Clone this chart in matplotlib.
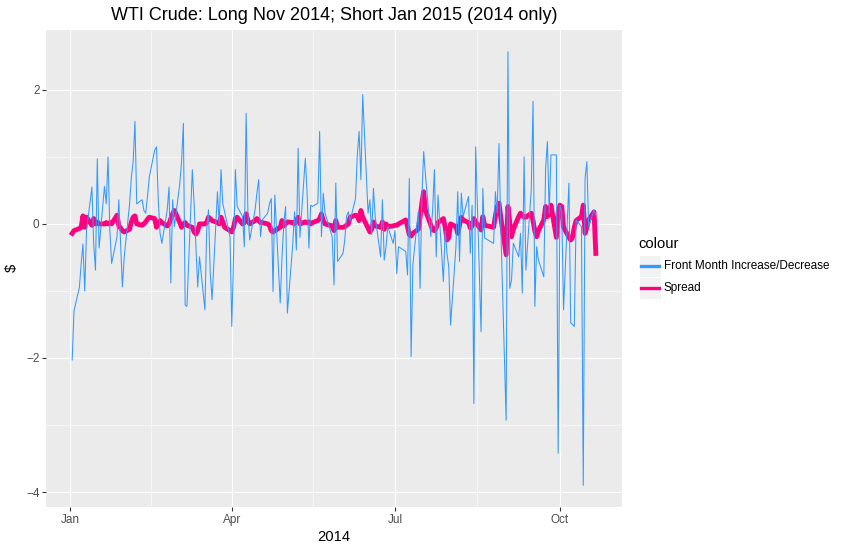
import numpy as np
import pandas as pd
import matplotlib
matplotlib.use('Agg')
import matplotlib.pyplot as plt
import matplotlib.dates as mdates
from matplotlib.lines import Line2D
from matplotlib.patches import Rectangle

nan = np.nan

# front month daily change ($), one value per business day
front_jan = [-2.03, -1.3, -0.95, -0.6, -0.3, -1.0, -0.1, 0.55, -0.3, -0.69, 0.97, -0.36,
             0.56, 0.3, 1.0, -0.09, -0.59, -0.19, 0.36, -0.3, -0.94, -0.5]
front_feb = [0.3, 0.7, 0.93, 1.53, 0.3, 0.36, 0.2, 0.16, 0.41, 0.7,
             1.1, 1.15, 0.36, -0.14, -0.29, 0.21, 0.55, -0.88, 0.36, -0.04]
front_mar = [0.6, 0.93, 1.5, -1.21, -1.23, 0.81, 0.3, -0.34, -0.94, -0.49,
             -1.28, -0.1, 0.21, -0.74, -1.13, 0.48, 0.0, 0.81, 0.3, 0.18, -0.19]
front_apr = [-1.53, -0.46, 0.81, 0.26, 0.11, -0.34, 1.65, 0.16, -0.24,
             0.21, 0.46, 0.66, -0.19, 0.06, 0.16, 0.3, 0.38, -1.01, 0.43, -1.18, -0.5, 0.0]
front_may = [0.26, -1.33, -0.3, 0.18, -0.39, 1.13, -0.2, 0.98, 0.46, -0.36, 0.28, 0.26,
             0.31, 1.38, -0.19, 0.46, 0.16, nan, -0.19, -0.91, 0.61, -0.56]
front_jun = [-0.44, -0.24, 0.11, 0.18, 0.05, 0.38, 1.03, 1.38, 0.66, 1.93,
             0.16, 0.36, -0.16, 0.53, 0.1, -0.49, 0.36, -0.54, -0.34, -0.04, -0.29]
front_jul = [-0.1, -0.74, -0.34, nan, -0.41, -0.76, 0.68, -1.98, -0.6,
             0.18, -0.96, 0.41, 1.08, 0.73, -0.19, 0.21, 0.81, -0.49, 0.43,
             -0.86, -0.1, -0.44, -0.64]
front_aug = [-1.51, -0.34, 0.48, -0.56, 0.46, 0.11, 0.41, -0.44, 0.28, -2.68, 1.15,
             -1.61, 0.53, -0.21, nan, nan, -0.29, 0.48, 0.16, 1.2, -0.04]
front_sep = [-2.93, 2.57, -0.96, -0.84, -0.29, -0.49, -0.14, -1.03, 1.0, -0.69,
             0.51, 1.83, -1.23, -0.34, -0.54, -0.79, 0.83, 1.23, 0.16, 1.03, 1.03, -3.42]
front_oct = [0.28, 0.18, -1.28, 0.61, -1.48, -1.5, -1.53, 0.06,
             -0.04, -3.9, 0.68, 0.93, -0.04, 0.21, 0.13]

# spread (Nov 2014 - Jan 2015)
spread_jan = [-0.14, -0.1, -0.07, -0.05, 0.12, -0.05, 0.1, -0.02, 0.08, 0.0, 0.03, 0.0,
              0.0, 0.02, 0.0, 0.02, 0.0, 0.13, -0.03, -0.06, -0.1, -0.12]
spread_feb = [-0.08, 0.03, 0.1, 0.12, 0.0, -0.02, 0.0, 0.03, 0.07, 0.1,
              0.08, -0.05, 0.0, 0.05, 0.02, -0.03, 0.0, 0.08, 0.15, 0.2]
spread_mar = [0.02, -0.05, 0.0, 0.02, -0.02, -0.05, -0.12, -0.15, -0.1, 0.0,
              0.0, 0.02, 0.1, 0.08, 0.05, 0.02, 0.0, 0.1, 0.03, -0.05, -0.1]
spread_apr = [-0.12, -0.05, 0.08, 0.1, 0.0, 0.02, 0.15, 0.05, 0.0, 0.05,
              0.08, 0.05, 0.02, 0.02, 0.0, -0.02, -0.1, -0.12, -0.1, -0.05, 0.05, -0.03]
spread_may = [0.0, 0.03, 0.02, 0.0, 0.05, 0.1, 0.0, 0.03, 0.02, 0.03, 0.0, 0.02,
              0.05, 0.08, 0.15, 0.05, 0.0, nan, -0.03, -0.1, 0.05, -0.05]
spread_jun = [-0.05, -0.04, -0.02, 0.0, 0.1, 0.13, 0.12, 0.05, 0.2, 0.1,
              -0.06, -0.12, -0.08, 0.03, -0.03, -0.05, 0.03, -0.08, 0.0, -0.04, -0.03]
spread_jul = [-0.02, -0.02, 0.0, nan, 0.06, -0.04, -0.16, -0.18, -0.14,
              -0.08, 0.1, 0.31, 0.48, 0.2, -0.02, -0.09, -0.1, -0.06, 0.02,
              0.08, -0.05, -0.24, -0.2]
spread_aug = [0.0, -0.04, -0.14, -0.02, 0.1, 0.06, 0.02, -0.06, -0.03, 0.08, 0.03,
              -0.09, 0.11, -0.02, nan, nan, -0.05, 0.12, 0.26, 0.31, 0.1]
spread_sep = [-0.46, 0.26, 0.02, -0.19, -0.08, 0.11, 0.16, 0.13, 0.1, 0.1,
              0.16, 0.05, -0.11, -0.19, -0.1, 0.06, 0.26, 0.11, 0.15, 0.28, -0.2, 0.16]
spread_oct = [0.28, 0.26, -0.05, -0.2, -0.24, -0.2, -0.05, 0.05,
              0.11, 0.28, -0.14, -0.05, 0.06, 0.18, -0.44]

front = sum([front_jan, front_feb, front_mar, front_apr, front_may, front_jun,
             front_jul, front_aug, front_sep, front_oct], [])
spread = sum([spread_jan, spread_feb, spread_mar, spread_apr, spread_may, spread_jun,
              spread_jul, spread_aug, spread_sep, spread_oct], [])

dates = pd.bdate_range('2014-01-02', '2014-10-21')
df = pd.DataFrame({'front': front, 'spread': spread}, index=dates)

blue = '#3399FF'
pink = '#FF007F'
W, H = 861, 552

plt.rcParams['font.family'] = ['Liberation Sans', 'DejaVu Sans']

fig = plt.figure(figsize=(W / 100, H / 100), dpi=100)
ax = fig.add_axes([46 / W, 1 - 507 / H, (622 - 46) / W, (507 - 30) / H])
ax.set_facecolor('#EBEBEB')
for s in ax.spines.values():
    s.set_visible(False)

sp = df['spread'].dropna()
fr = df['front'].dropna()
ax.plot(sp.index, sp.values, color=pink, lw=3.5, solid_joinstyle='round', zorder=3)
ax.plot(fr.index, fr.values, color=blue, lw=0.75, zorder=4)

ax.set_yticks([-4, -2, 0, 2])
ax.set_yticks([-3, -1, 1], minor=True)
ax.xaxis.set_major_locator(mdates.MonthLocator(bymonth=[1, 4, 7, 10]))
ax.xaxis.set_major_formatter(mdates.DateFormatter('%b'))
ax.set_xlim(ax.get_xlim())
maj = ax.get_xticks()
ax.set_xticks([(a + b) / 2 for a, b in zip(maj[:-1], maj[1:])], minor=True)

ax.grid(which='major', color='white', lw=0.8)
ax.grid(which='minor', color='white', lw=0.4)
ax.set_axisbelow(True)
ax.tick_params(which='major', length=2.7, width=0.8, color='#333333',
               labelcolor='#4D4D4D', labelsize=8.5, pad=2)
ax.tick_params(which='minor', length=0)

fig.text(334 / W, 1 - 15 / H, 'WTI Crude: Long Nov 2014; Short Jan 2015 (2014 only)',
         ha='center', va='center', fontsize=13, color='black')
fig.text(334 / W, 1 - 537 / H, '2014', ha='center', va='center', fontsize=10.6)
fig.text(12 / W, 1 - 268 / H, '$', ha='center', va='center', fontsize=10.6, rotation=90)

# legend
fig.text(638 / W, 1 - 244 / H, 'colour', ha='left', va='center', fontsize=10.6)
labels = ['Front Month Increase/Decrease', 'Spread']
for i, (lab, col) in enumerate(zip(labels, [blue, pink])):
    top = 255 + 22 * i
    fig.patches.append(Rectangle((639 / W, 1 - (top + 22) / H), 22 / W, 22 / H,
                                 transform=fig.transFigure, facecolor='#F2F2F2',
                                 edgecolor='white', lw=0.8))
    fig.lines.append(Line2D([641 / W, 659 / W], [1 - (top + 11) / H] * 2,
                            transform=fig.transFigure, color=col, lw=2.4))
    fig.text(664 / W, 1 - (top + 11) / H, lab, ha='left', va='center', fontsize=8.5)

fig.savefig('out.png', dpi=100)
